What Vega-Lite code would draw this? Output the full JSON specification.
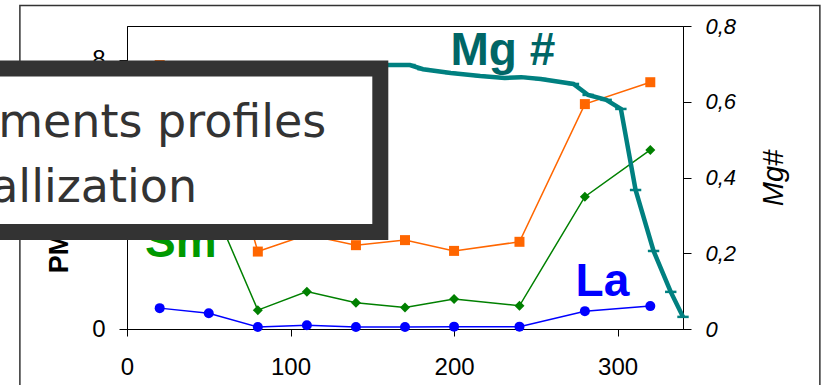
{
  "$schema": "https://vega.github.io/schema/vega-lite/v6.json",
  "width": 556,
  "height": 303,
  "autosize": {"type": "none"},
  "padding": {"left": 127, "top": 26, "right": 140, "bottom": 56},
  "background": "white",
  "config": {
    "view": {"stroke": "#000000", "strokeWidth": 1},
    "axis": {"grid": false, "domainColor": "#000000", "tickColor": "#000000", "labelColor": "#000000", "titleColor": "#000000", "domainWidth": 1, "tickWidth": 1}
  },
  "datasets": {
    "pm": [
      {"el": "X", "h": 20, "v": 7.84}, {"el": "X", "h": 50, "v": 7.4}, {"el": "X", "h": 80, "v": 2.3}, {"el": "X", "h": 110, "v": 2.8}, {"el": "X", "h": 140, "v": 2.49},
      {"el": "X", "h": 170, "v": 2.64}, {"el": "X", "h": 200, "v": 2.32}, {"el": "X", "h": 240, "v": 2.59}, {"el": "X", "h": 280, "v": 6.68}, {"el": "X", "h": 320, "v": 7.33},
      {"el": "Sm", "h": 20, "v": 4.6}, {"el": "Sm", "h": 50, "v": 3.95}, {"el": "Sm", "h": 80, "v": 0.56}, {"el": "Sm", "h": 110, "v": 1.11}, {"el": "Sm", "h": 140, "v": 0.78},
      {"el": "Sm", "h": 170, "v": 0.64}, {"el": "Sm", "h": 200, "v": 0.89}, {"el": "Sm", "h": 240, "v": 0.69}, {"el": "Sm", "h": 280, "v": 3.93}, {"el": "Sm", "h": 320, "v": 5.32},
      {"el": "La", "h": 20, "v": 0.62}, {"el": "La", "h": 50, "v": 0.47}, {"el": "La", "h": 80, "v": 0.06}, {"el": "La", "h": 110, "v": 0.11}, {"el": "La", "h": 140, "v": 0.06},
      {"el": "La", "h": 170, "v": 0.06}, {"el": "La", "h": 200, "v": 0.07}, {"el": "La", "h": 240, "v": 0.07}, {"el": "La", "h": 280, "v": 0.53}, {"el": "La", "h": 320, "v": 0.68}
    ],
    "mg": [
      {"h": 20, "mg": 0.70}, {"h": 40, "mg": 0.70}, {"h": 60, "mg": 0.70}, {"h": 80, "mg": 0.70}, {"h": 100, "mg": 0.70}, {"h": 120, "mg": 0.70}, {"h": 140, "mg": 0.70},
      {"h": 160, "mg": 0.697}, {"h": 173, "mg": 0.697}, {"h": 181, "mg": 0.686}, {"h": 198, "mg": 0.676}, {"h": 216, "mg": 0.668}, {"h": 231, "mg": 0.663},
      {"h": 241, "mg": 0.665}, {"h": 253, "mg": 0.66}, {"h": 273, "mg": 0.647}, {"h": 282, "mg": 0.618}, {"h": 293, "mg": 0.605}, {"h": 302, "mg": 0.581},
      {"h": 311, "mg": 0.367}, {"h": 322, "mg": 0.206}, {"h": 332.5, "mg": 0.098}, {"h": 340, "mg": 0.032}
    ]
  },
  "layer": [
    {
      "layer": [
        {
          "data": {"values": [{}]},
          "mark": {"type": "rect", "filled": false, "stroke": "#333333", "strokeWidth": 1.5},
          "encoding": {
            "x": {"datum": -65.5, "type": "quantitative", "scale": {"domain": [0, 340], "nice": false, "zero": false}, "title": null},
            "x2": {"datum": 423.7},
            "y": {"datum": 9.61, "type": "quantitative", "scale": {"domain": [0, 9], "nice": false, "zero": false}, "title": null},
            "y2": {"datum": -3}
          }
        },
        {
          "data": {"name": "pm"},
          "mark": {"type": "line", "strokeWidth": 1.5},
          "encoding": {
            "x": {"field": "h", "type": "quantitative", "scale": {"domain": [0, 340], "nice": false, "zero": false}, "title": null,
              "axis": {"values": [0, 100, 200, 300], "tickSize": 7, "labelPadding": 19, "labelFont": "Liberation Sans", "labelFontSize": 24, "labelFlush": false, "labelOverlap": false}},
            "y": {"field": "v", "type": "quantitative", "scale": {"domain": [0, 9], "nice": false, "zero": false},
              "axis": {"orient": "left", "values": [0, 4, 8], "tickSize": 8, "labelPadding": 14, "labelFont": "Liberation Sans", "labelFontSize": 24, "labelFlush": false, "labelOverlap": false,
                "title": "PM normalized", "titleFont": "Liberation Sans", "titleFontSize": 27, "titleFontWeight": "bold", "titlePadding": 18}},
            "color": {"field": "el", "type": "nominal", "scale": {"domain": ["X", "Sm", "La"], "range": ["#FF6600", "#008000", "#0000FF"]}, "legend": null},
            "detail": {"field": "el"}
          }
        },
        {
          "data": {"name": "pm"},
          "mark": {"type": "point", "filled": true, "opacity": 1, "size": 100},
          "encoding": {
            "x": {"field": "h", "type": "quantitative", "scale": {"domain": [0, 340], "nice": false, "zero": false}, "title": null},
            "y": {"field": "v", "type": "quantitative", "scale": {"domain": [0, 9], "nice": false, "zero": false}},
            "color": {"field": "el", "type": "nominal", "scale": {"domain": ["X", "Sm", "La"], "range": ["#FF6600", "#008000", "#0000FF"]}, "legend": null},
            "shape": {"field": "el", "type": "nominal", "scale": {"domain": ["X", "Sm", "La"], "range": ["square", "diamond", "circle"]}, "legend": null}
          }
        },
        {
          "data": {"values": [{}]},
          "mark": {"type": "text", "align": "left", "baseline": "alphabetic", "font": "Liberation Sans", "fontSize": 46, "fontWeight": "bold", "color": "#009900"},
          "encoding": {
            "x": {"datum": 11.0, "type": "quantitative", "scale": {"domain": [0, 340], "nice": false, "zero": false}, "title": null},
            "y": {"datum": 2.14, "type": "quantitative", "scale": {"domain": [0, 9], "nice": false, "zero": false}},
            "text": {"value": "Sm"}
          }
        },
        {
          "data": {"values": [{}]},
          "mark": {"type": "text", "align": "left", "baseline": "alphabetic", "font": "Liberation Sans", "fontSize": 46, "fontWeight": "bold", "color": "#0000FF"},
          "encoding": {
            "x": {"datum": 274.3, "type": "quantitative", "scale": {"domain": [0, 340], "nice": false, "zero": false}, "title": null},
            "y": {"datum": 0.98, "type": "quantitative", "scale": {"domain": [0, 9], "nice": false, "zero": false}},
            "text": {"value": "La"}
          }
        },
        {
          "data": {"values": [{}]},
          "mark": {"type": "text", "align": "left", "baseline": "alphabetic", "font": "Liberation Sans", "fontSize": 46, "fontWeight": "bold", "color": "#006666"},
          "encoding": {
            "x": {"datum": 197.8, "type": "quantitative", "scale": {"domain": [0, 340], "nice": false, "zero": false}, "title": null},
            "y": {"datum": 7.84, "type": "quantitative", "scale": {"domain": [0, 9], "nice": false, "zero": false}},
            "text": {"value": "Mg #"}
          }
        }
      ]
    },
    {
      "data": {"name": "mg"},
      "layer": [
        {
          "mark": {"type": "line", "color": "#008080", "strokeWidth": 4.5},
          "encoding": {
            "x": {"field": "h", "type": "quantitative", "scale": {"domain": [0, 340], "nice": false, "zero": false}, "title": null},
            "y": {"field": "mg", "type": "quantitative", "scale": {"domain": [0, 0.8], "nice": false, "zero": false},
              "axis": {"orient": "right", "values": [0, 0.2, 0.4, 0.6, 0.8], "tickSize": 8, "labelPadding": 14, "labelFont": "Liberation Sans", "labelFontSize": 22, "labelFontStyle": "italic", "labelFlush": false, "labelOverlap": false,
                "labelExpr": "datum.value == 0 ? '0' : replace(format(datum.value, '.1f'), '.', ',')",
                "title": "Mg#", "titleFont": "Liberation Sans", "titleFontSize": 29, "titleFontStyle": "italic", "titleFontWeight": "normal", "titleAngle": 270, "titleBaseline": "top", "titlePadding": 24}}
          }
        },
        {
          "mark": {"type": "point", "shape": "stroke", "filled": false, "color": "#008080", "strokeWidth": 2.5, "size": 130, "opacity": 1},
          "encoding": {
            "x": {"field": "h", "type": "quantitative", "scale": {"domain": [0, 340], "nice": false, "zero": false}, "title": null},
            "y": {"field": "mg", "type": "quantitative", "scale": {"domain": [0, 0.8], "nice": false, "zero": false}}
          }
        }
      ]
    },
    {
      "data": {"values": [{}]},
      "layer": [
        {
          "mark": {"type": "rect", "fill": "#FFFFFF", "stroke": "#333333", "strokeWidth": 16},
          "encoding": {
            "x": {"datum": -150, "type": "quantitative", "scale": {"domain": [0, 340], "nice": false, "zero": false}, "title": null},
            "x2": {"datum": 154.9},
            "y": {"datum": 7.74, "type": "quantitative", "scale": {"domain": [0, 9], "nice": false, "zero": false}, "axis": null},
            "y2": {"datum": 2.88}
          }
        },
        {
          "mark": {"type": "text", "align": "right", "baseline": "alphabetic", "font": "DejaVu Sans", "fontSize": 46, "color": "#333333"},
          "encoding": {
            "x": {"datum": 121.9, "type": "quantitative", "scale": {"domain": [0, 340], "nice": false, "zero": false}, "title": null},
            "y": {"datum": 5.7, "type": "quantitative", "scale": {"domain": [0, 9], "nice": false, "zero": false}, "axis": null},
            "text": {"value": "ments profiles"}
          }
        },
        {
          "mark": {"type": "text", "align": "right", "baseline": "alphabetic", "font": "DejaVu Sans", "fontSize": 46, "color": "#333333"},
          "encoding": {
            "x": {"datum": 42.9, "type": "quantitative", "scale": {"domain": [0, 340], "nice": false, "zero": false}, "title": null},
            "y": {"datum": 3.77, "type": "quantitative", "scale": {"domain": [0, 9], "nice": false, "zero": false}, "axis": null},
            "text": {"value": "allization"}
          }
        }
      ]
    }
  ],
  "resolve": {"scale": {"y": "independent"}, "axis": {"y": "independent"}}
}
